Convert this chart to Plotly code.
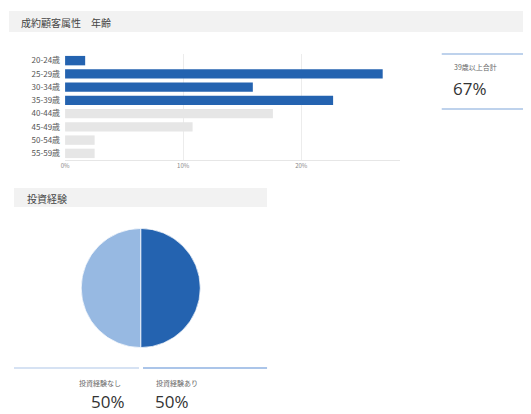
import plotly.graph_objects as go

W, H = 531, 414
OFF_X = 11  # page offset in the browser
OFF_Y = 8

age_groups = ["20-24歳", "25-29歳", "30-34歳", "35-39歳", "40-44歳", "45-49歳", "50-54歳", "55-59歳"]
age_share = [1.7, 26.9, 15.9, 22.7, 17.6, 10.8, 2.5, 2.5]
age_highlight = [True, True, True, True, False, False, False, False]
x_ticks = [0, 10, 20]
x_tick_labels = ["0%", "10%", "20%"]

exp_labels = ["投資経験あり", "投資経験なし"]
exp_values = [50, 50]

kpi_label = "39歳以上合計"
kpi_value = "67%"

FONT = "Noto Sans CJK JP"
DARK = "#2463b0"
LIGHT = "#97b9e2"
GRAY = "#e6e6e6"


def px(x):
    return (x - OFF_X) / W


def py(y):
    return 1 - (y - OFF_Y) / H


fig = go.Figure()

fig.add_trace(go.Bar(
    y=age_groups, x=age_share, orientation="h",
    marker=dict(color=[DARK if h else GRAY for h in age_highlight],
                line=dict(width=0)),
    hoverinfo="skip", showlegend=False,
    xaxis="x", yaxis="y",
))

fig.add_trace(go.Pie(
    labels=exp_labels, values=exp_values, sort=False, direction="clockwise",
    rotation=0, marker=dict(colors=[DARK, LIGHT], line=dict(color="white", width=0.7)),
    textinfo="none", hoverinfo="skip", showlegend=False,
    domain=dict(x=[px(80.7), px(200.7)], y=[py(348), py(228)]),
))

shapes = [
    dict(type="rect", xref="paper", yref="paper", x0=px(8), x1=px(545), y0=py(32), y1=py(11),
         fillcolor="#f2f2f2", line=dict(width=0), layer="below"),
    dict(type="rect", xref="paper", yref="paper", x0=px(13), x1=px(268), y0=py(207), y1=py(188),
         fillcolor="#f2f2f2", line=dict(width=0), layer="below"),
    dict(type="line", xref="paper", yref="paper", x0=px(444), x1=px(545), y0=py(54), y1=py(54),
         line=dict(color="#a8c3e6", width=1.5)),
    dict(type="line", xref="paper", yref="paper", x0=px(444), x1=px(545), y0=py(109), y1=py(109),
         line=dict(color="#a8c3e6", width=1.5)),
    dict(type="line", xref="paper", yref="paper", x0=px(13), x1=px(139), y0=py(368), y1=py(368),
         line=dict(color="#c8d8ef", width=1.5)),
    dict(type="line", xref="paper", yref="paper", x0=px(143), x1=px(268), y0=py(368), y1=py(368),
         line=dict(color="#8fb2e2", width=1.5)),
]


def text(x, y, s, size, color="#555555", family=FONT):
    return dict(xref="paper", yref="paper", x=px(x), y=py(y), text=s, showarrow=False,
                xanchor="left", yanchor="middle", borderpad=0,
                font=dict(size=size, color=color, family=family))


annotations = [
    text(19, 22, "成約顧客属性　年齢", 10, "#444444"),
    text(25, 198, "投資経験", 10, "#444444"),
    text(455, 67, kpi_label, 7, "#666666"),
    text(454, 89, kpi_value, 17, "#333333", "Open Sans, " + FONT),
    text(78, 383, "投資経験なし", 7, "#666666"),
    text(90, 401, f"{exp_values[1]}%", 17, "#333333", "Open Sans, " + FONT),
    text(155, 383, "投資経験あり", 7, "#666666"),
    text(154, 401, f"{exp_values[0]}%", 17, "#333333", "Open Sans, " + FONT),
]

fig.update_layout(
    width=W, height=H,
    margin=dict(l=0, r=0, t=0, b=0),
    paper_bgcolor="white", plot_bgcolor="white",
    font=dict(family=FONT, color="#555555"),
    bargap=0.29,
    xaxis=dict(domain=[px(64.5), px(402)], range=[0, 28.37], tickvals=x_ticks, ticktext=x_tick_labels,
               showgrid=True, gridcolor="#ececec", gridwidth=1, zeroline=False,
               showline=True, linecolor="#e6e6e6", linewidth=1,
               tickfont=dict(size=6, color="#888888"), ticks="", fixedrange=True),
    yaxis=dict(domain=[py(160), py(54)], autorange="reversed", showgrid=False, zeroline=False,
               tickfont=dict(size=8, color="#555555"), ticks="", ticklabelstandoff=4, fixedrange=True),
    shapes=shapes,
    annotations=annotations,
)

fig.write_html("out.html")
